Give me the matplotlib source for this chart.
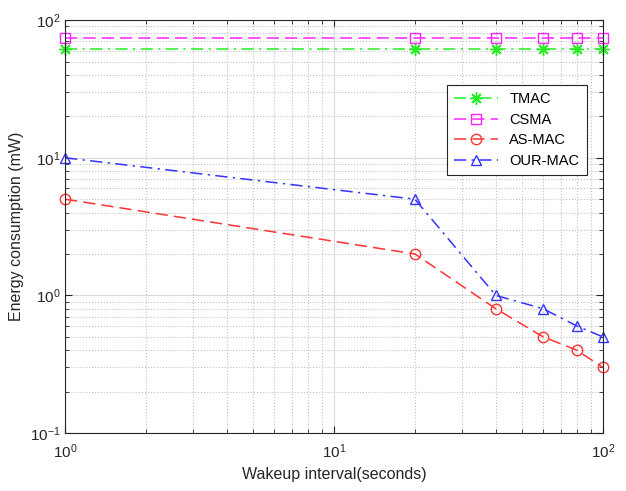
import matplotlib
matplotlib.use('Agg')
import matplotlib.pyplot as plt

plt.rcParams['font.family'] = ['Liberation Sans', 'DejaVu Sans']

# 起床間隔 (秒)
wakeup = [1, 20, 40, 60, 80, 100]
tmac = [62, 62, 62, 62, 62, 62]
csma = [74, 74, 74, 74, 74, 74]
as_mac = [5.0, 2.0, 0.8, 0.5, 0.4, 0.3]
our_mac = [10.0, 5.0, 1.0, 0.8, 0.6, 0.5]


def main():
    fig = plt.figure(figsize=(6.26, 4.91), dpi=100)
    ax = fig.add_axes([0.104, 0.118, 0.859, 0.841])

    dash = [8, 4]
    dashdot = [8, 3.5, 1.5, 3.5]
    ax.loglog(wakeup, tmac, color='#22ee22', marker=(8, 2, 0), ms=9, lw=1.1,
              dashes=dashdot, clip_on=False, label='TMAC')
    ax.loglog(wakeup, csma, color='#ff22ff', marker='s', ms=7, mfc='none', lw=1.1,
              dashes=dash, clip_on=False, label='CSMA')
    ax.loglog(wakeup, as_mac, color='#ff3333', marker='o', ms=7.5, mfc='none', lw=1.1,
              dashes=dash, clip_on=False, label='AS-MAC')
    ax.loglog(wakeup, our_mac, color='#3333ff', marker='^', ms=7.5, mfc='none', lw=1.1,
              dashes=dashdot, clip_on=False, label='OUR-MAC')

    ax.set_xlim(1, 100)
    ax.set_ylim(0.1, 100)

    # グリッド（主目盛は実線、補助目盛は点線）
    ax.grid(True, which='major', color='#d9d9d9', linestyle='-', lw=0.8)
    ax.grid(True, which='minor', color='#c0c0c0', linestyle=':', lw=0.8)
    ax.set_axisbelow(True)

    ax.tick_params(which='both', direction='in', top=True, right=True, labelsize=11, colors='#262626')
    ax.tick_params(which='major', length=5)
    ax.tick_params(which='minor', length=3)
    ax.tick_params(axis='x', pad=7)
    for s in ax.spines.values():
        s.set_color('#262626')
        s.set_linewidth(0.8)

    ax.set_xlabel('Wakeup interval(seconds)', fontsize=11.5, color='#262626', labelpad=4)
    ax.set_ylabel('Energy consumption (mW)', fontsize=11.5, color='#262626', labelpad=4)

    leg = ax.legend(loc='upper right', bbox_to_anchor=(0.97, 0.843), borderaxespad=0,
                    fontsize=10.5, fancybox=False, edgecolor='#262626', framealpha=1,
                    handlelength=3.0, borderpad=0.5, labelspacing=0.45)
    leg.get_frame().set_linewidth(0.8)

    plt.savefig('out.png', dpi=100)


if __name__ == "__main__":
    main()
